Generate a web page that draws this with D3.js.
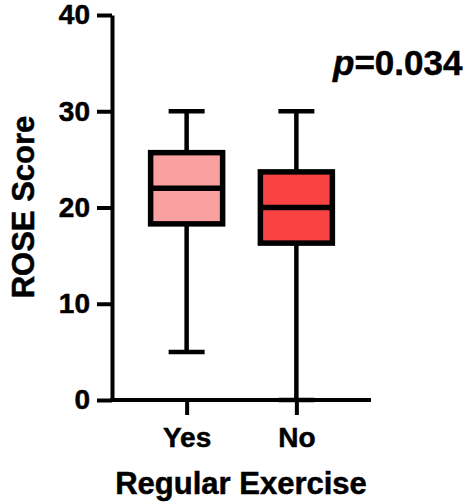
<!DOCTYPE html>
<html>
<head>
  <meta charset="utf-8">
  <style type="text/css">
    body { margin: 0; background: #fff; }
    text { font-family: Arial, "Liberation Sans", sans-serif; font-weight: bold; fill: #000; stroke: #000; stroke-width: 0.5px; }
  </style>
  <script src="https://d3js.org/d3.v7.min.js"></script>
</head>
<body>
  <div id="chart"></div>
  <script type="text/javascript">
    // box plot values
    var groups = ["Yes", "No"];
    var mins = [5, 0];
    var q1s = [18.3, 16.3];
    var medians = [22, 20];
    var q3s = [25.7, 23.7];
    var maxs = [30, 30];
    var fills = ["#FBA0A0", "#F94343"];
    var yTicks = [0, 10, 20, 30, 40];

    var width = 474, height = 502;

    var svg = d3.select("#chart")
      .append("svg")
        .attr("width", width)
        .attr("height", height);

    var y = d3.scaleLinear().domain([0, 40]).range([400, 15]);
    var x = d3.scalePoint().domain(groups).range([112, 371]).padding(0.68);

    var boxW = 72, capW = 36;

    var data = groups.map(function(g, i) {
      return { g: g, min: mins[i], q1: q1s[i], med: medians[i], q3: q3s[i], max: maxs[i], fill: fills[i] };
    });

    var boxes = svg.selectAll(".box").data(data).enter()
      .append("g").attr("class", "box");

    // whiskers
    boxes.append("line")
      .attr("x1", function(d) { return x(d.g); })
      .attr("x2", function(d) { return x(d.g); })
      .attr("y1", function(d) { return y(d.max); })
      .attr("y2", function(d) { return y(d.min); })
      .attr("stroke", "#000").attr("stroke-width", 4.5);
    boxes.selectAll(".cap")
      .data(function(d) { return [{ g: d.g, v: d.min }, { g: d.g, v: d.max }]; })
      .enter().append("line")
      .attr("x1", function(d) { return x(d.g) - capW / 2; })
      .attr("x2", function(d) { return x(d.g) + capW / 2; })
      .attr("y1", function(d) { return y(d.v); })
      .attr("y2", function(d) { return y(d.v); })
      .attr("stroke", "#000").attr("stroke-width", 4.5);

    boxes.append("rect")
      .attr("x", function(d) { return x(d.g) - boxW / 2; })
      .attr("width", boxW)
      .attr("y", function(d) { return y(d.q3); })
      .attr("height", function(d) { return y(d.q1) - y(d.q3); })
      .attr("fill", function(d) { return d.fill; })
      .attr("stroke", "#000").attr("stroke-width", 5.5);

    boxes.append("line")
      .attr("x1", function(d) { return x(d.g) - boxW / 2; })
      .attr("x2", function(d) { return x(d.g) + boxW / 2; })
      .attr("y1", function(d) { return y(d.med); })
      .attr("y2", function(d) { return y(d.med); })
      .attr("stroke", "#000").attr("stroke-width", 5.5);

    // axes
    var yAxis = svg.append("g")
      .attr("transform", "translate(112,0)")
      .call(d3.axisLeft(y).tickValues(yTicks).tickSize(15).tickSizeOuter(0).tickPadding(7));
    var xAxis = svg.append("g")
      .attr("transform", "translate(0,400)")
      .call(d3.axisBottom(x).tickSize(15).tickSizeOuter(0).tickPadding(12));
    xAxis.select(".domain").attr("d", "M110,0H371");

    [yAxis, xAxis].forEach(function(a) {
      a.selectAll("path, line").attr("stroke", "#000").attr("stroke-width", 4);
      a.selectAll("text")
        .style("font-family", "Arial, 'Liberation Sans', sans-serif")
        .style("font-weight", "bold")
        .style("font-size", "28px")
        .attr("fill", "#000");
    });

    // axis titles
    svg.append("text")
      .attr("transform", "translate(34,207) rotate(-90)")
      .attr("text-anchor", "middle")
      .style("font-size", "31px")
      .text("ROSE Score");

    svg.append("text")
      .attr("x", 241).attr("y", 494)
      .attr("text-anchor", "middle")
      .style("font-size", "31px")
      .text("Regular Exercise");

    var pt = svg.append("text")
      .attr("x", 333).attr("y", 75)
      .style("font-size", "35px");
    pt.append("tspan").style("font-style", "italic").text("p");
    pt.append("tspan").text("=0.034");
  </script>
</body>
</html>
